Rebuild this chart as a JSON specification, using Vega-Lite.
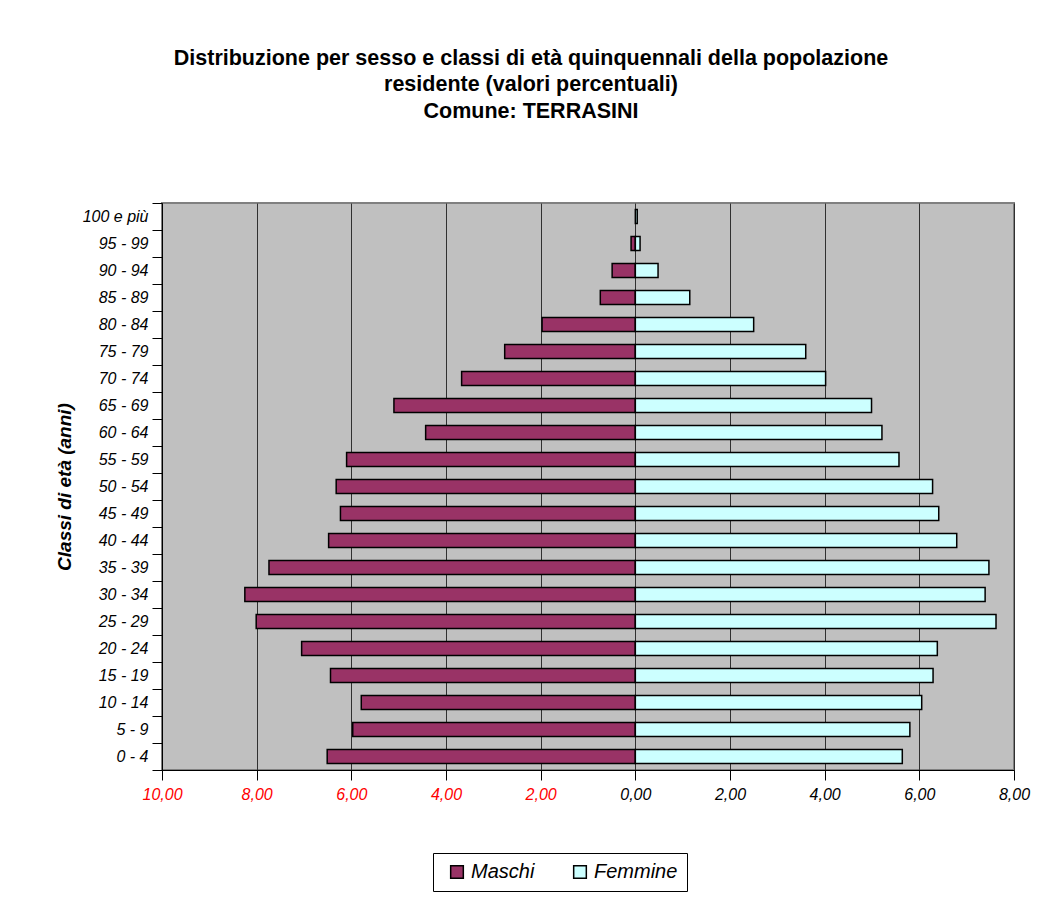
{
  "$schema": "https://vega.github.io/schema/vega-lite/v6.json",
  "autosize": {"type": "none"},
  "padding": {"left": 162, "top": 203, "right": 48, "bottom": 131},
  "width": 852,
  "height": 567,
  "background": "white",
  "title": {
    "text": ["Distribuzione per sesso e classi di età quinquennali della popolazione", "residente (valori percentuali)", "Comune: TERRASINI"],
    "font": "Liberation Sans",
    "fontSize": 21.5,
    "fontWeight": "bold",
    "color": "black",
    "lineHeight": 26.5,
    "anchor": "middle",
    "dx": -57,
    "offset": 73
  },
  "data": {
    "values": [
      {"classe": "100 e più", "sesso": "Maschi", "valore": 0.0},
      {"classe": "95 - 99", "sesso": "Maschi", "valore": -0.09},
      {"classe": "90 - 94", "sesso": "Maschi", "valore": -0.49},
      {"classe": "85 - 89", "sesso": "Maschi", "valore": -0.74},
      {"classe": "80 - 84", "sesso": "Maschi", "valore": -1.97},
      {"classe": "75 - 79", "sesso": "Maschi", "valore": -2.76},
      {"classe": "70 - 74", "sesso": "Maschi", "valore": -3.67},
      {"classe": "65 - 69", "sesso": "Maschi", "valore": -5.10},
      {"classe": "60 - 64", "sesso": "Maschi", "valore": -4.43},
      {"classe": "55 - 59", "sesso": "Maschi", "valore": -6.10},
      {"classe": "50 - 54", "sesso": "Maschi", "valore": -6.32},
      {"classe": "45 - 49", "sesso": "Maschi", "valore": -6.23},
      {"classe": "40 - 44", "sesso": "Maschi", "valore": -6.48},
      {"classe": "35 - 39", "sesso": "Maschi", "valore": -7.74},
      {"classe": "30 - 34", "sesso": "Maschi", "valore": -8.25},
      {"classe": "25 - 29", "sesso": "Maschi", "valore": -8.01},
      {"classe": "20 - 24", "sesso": "Maschi", "valore": -7.05},
      {"classe": "15 - 19", "sesso": "Maschi", "valore": -6.44},
      {"classe": "10 - 14", "sesso": "Maschi", "valore": -5.79},
      {"classe": "5 - 9", "sesso": "Maschi", "valore": -5.97},
      {"classe": "0 - 4", "sesso": "Maschi", "valore": -6.51},
      {"classe": "100 e più", "sesso": "Femmine", "valore": 0.04},
      {"classe": "95 - 99", "sesso": "Femmine", "valore": 0.10},
      {"classe": "90 - 94", "sesso": "Femmine", "valore": 0.48},
      {"classe": "85 - 89", "sesso": "Femmine", "valore": 1.15},
      {"classe": "80 - 84", "sesso": "Femmine", "valore": 2.50},
      {"classe": "75 - 79", "sesso": "Femmine", "valore": 3.60},
      {"classe": "70 - 74", "sesso": "Femmine", "valore": 4.02},
      {"classe": "65 - 69", "sesso": "Femmine", "valore": 4.99},
      {"classe": "60 - 64", "sesso": "Femmine", "valore": 5.21},
      {"classe": "55 - 59", "sesso": "Femmine", "valore": 5.57},
      {"classe": "50 - 54", "sesso": "Femmine", "valore": 6.28},
      {"classe": "45 - 49", "sesso": "Femmine", "valore": 6.41},
      {"classe": "40 - 44", "sesso": "Femmine", "valore": 6.79},
      {"classe": "35 - 39", "sesso": "Femmine", "valore": 7.47},
      {"classe": "30 - 34", "sesso": "Femmine", "valore": 7.39},
      {"classe": "25 - 29", "sesso": "Femmine", "valore": 7.62},
      {"classe": "20 - 24", "sesso": "Femmine", "valore": 6.38},
      {"classe": "15 - 19", "sesso": "Femmine", "valore": 6.29},
      {"classe": "10 - 14", "sesso": "Femmine", "valore": 6.05},
      {"classe": "5 - 9", "sesso": "Femmine", "valore": 5.80},
      {"classe": "0 - 4", "sesso": "Femmine", "valore": 5.64}
    ]
  },
  "mark": {"type": "bar", "size": 14, "stroke": "black", "strokeWidth": 1.5},
  "encoding": {
    "y": {
      "field": "classe",
      "type": "nominal",
      "scale": {"domain": ["100 e più", "95 - 99", "90 - 94", "85 - 89", "80 - 84", "75 - 79", "70 - 74", "65 - 69", "60 - 64", "55 - 59", "50 - 54", "45 - 49", "40 - 44", "35 - 39", "30 - 34", "25 - 29", "20 - 24", "15 - 19", "10 - 14", "5 - 9", "0 - 4"], "paddingInner": 0, "paddingOuter": 0},
      "axis": {
        "title": "Classi di età (anni)",
        "titleFont": "Liberation Sans",
        "titleFontSize": 19,
        "titleFontWeight": "bold",
        "titleFontStyle": "italic",
        "titleColor": "black",
        "titlePadding": 8,
        "labelFont": "Liberation Sans",
        "labelFontSize": 16,
        "labelFontStyle": "italic",
        "labelColor": "black",
        "labelPadding": 4,
        "tickBand": "extent",
        "tickSize": 10,
        "tickColor": "black",
        "domainColor": "black",
        "grid": false
      }
    },
    "x": {
      "field": "valore",
      "type": "quantitative",
      "scale": {"domain": [-10, 8], "nice": false, "zero": false},
      "axis": {
        "title": null,
        "values": [-10, -8, -6, -4, -2, 0, 2, 4, 6, 8],
        "labelExpr": "replace(format(abs(datum.value), '.2f'), '.', ',')",
        "labelFlush": false,
        "labelOverlap": false,
        "labelFont": "Liberation Sans",
        "labelFontSize": 16,
        "labelFontStyle": "italic",
        "labelColor": {"condition": {"test": "datum.value < 0", "value": "#FF0000"}, "value": "#000000"},
        "labelPadding": 6,
        "tickSize": 10,
        "tickColor": "black",
        "domainColor": "black",
        "grid": true,
        "gridColor": "#303030",
        "gridWidth": 1
      }
    },
    "color": {
      "field": "sesso",
      "type": "nominal",
      "scale": {"domain": ["Maschi", "Femmine"], "range": ["#993366", "#CCFFFF"]},
      "legend": {
        "title": null,
        "orient": "none",
        "direction": "horizontal",
        "legendX": 271,
        "legendY": 650,
        "fillColor": "white",
        "strokeColor": "black",
        "padding": 9,
        "symbolType": "square",
        "symbolSize": 160,
        "symbolOffset": 5,
        "symbolStrokeColor": "black",
        "symbolStrokeWidth": 1.5,
        "symbolOpacity": 1,
        "labelFont": "Liberation Sans",
        "labelFontSize": 20,
        "labelFontStyle": "italic",
        "labelColor": "black",
        "columnPadding": 30
      }
    }
  },
  "config": {
    "view": {"fill": "#C0C0C0", "stroke": "#808080", "strokeWidth": 2}
  }
}
